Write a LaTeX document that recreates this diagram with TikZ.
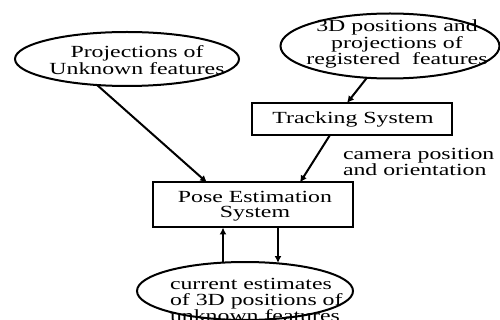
\documentclass[tikz,border=0pt]{standalone}
\usepackage{fontspec}
\newfontfamily\figfont{Liberation Serif}[FakeStretch=1.4]
\usetikzlibrary{shapes.geometric,arrows.meta,calc}
\begin{document}
\begin{tikzpicture}[x=1pt,y=-1pt,inner sep=0pt,outer sep=0pt,line width=2pt,
>={Latex[length=7pt,width=7pt]},
blob/.style={draw,ellipse,line width=2pt},
sysbox/.style={draw,rectangle,line width=2pt},
lbl/.style={font=\figfont\fontsize{17}{15.5}\selectfont,align=center}]
\useasboundingbox (0,0) rectangle (500,320);

% feature sources
\draw (127,59) node[blob,minimum width=224pt,minimum height=54pt] (proj) {};
\draw (137,60) node[lbl] (projtxt) {Projections of\\Unknown features};
\draw (390,46) node[blob,minimum width=219pt,minimum height=65pt] (reg) {};
\draw (397,44) node[lbl] (regtxt) {3D positions and\\projections of\\registered\ \ features};

% systems
\draw (352,119) node[sysbox,minimum width=200pt,minimum height=32pt] (track) {};
\draw (353,119) node[lbl] (tracktxt) {Tracking System};
\draw (253,205) node[sysbox,minimum width=200pt,minimum height=45pt] (pose) {};
\draw (255,206) node[lbl] (posetxt) {Pose Estimation\\System};
\draw (343,162) node[lbl,anchor=west,align=left] (cam) {camera position\\and orientation};

% estimates
\draw (245,291) node[blob,minimum width=216pt,minimum height=58pt] (est) {};
\draw (170,300) node[lbl,anchor=west,align=left] (esttxt) {current estimates\\of 3D positions of\\unknown features};

\draw[->] (proj.221) -- ($(pose.north)+(-46,0)$);
\draw[->] (reg.234) -- ($(track.north)+(-5,0)$);
\draw[->] ($(track.south)+(-22,0)$) -- ($(pose.north)+(47,0)$);
\draw[->] ($(est.north)+(-22,0)$) -- ($(pose.south)+(-30,0)$);
\draw[->] ($(pose.south)+(25,0)$) -- ($(est.north)+(33,1)$);
\end{tikzpicture}
\end{document}
